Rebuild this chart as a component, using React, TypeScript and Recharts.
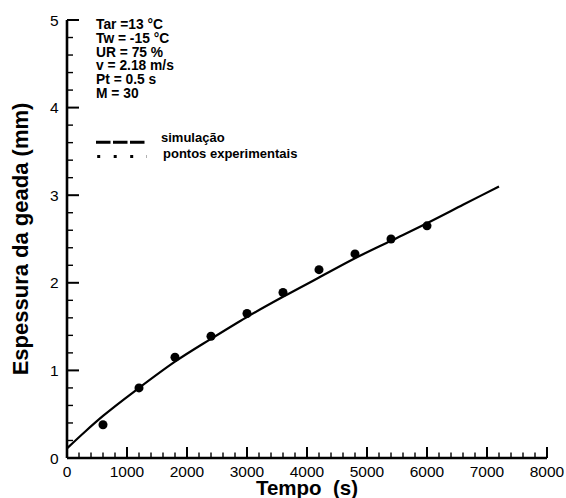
import React from "react";
import { ComposedChart, Line, Scatter, XAxis, YAxis } from "recharts";

// ---- data ----
const simTime = [0, 300, 600, 1200, 1800, 2400, 3000, 3600, 4200, 4800, 5400, 6000, 6600, 7200];
const simThickness = [0.11, 0.3, 0.48, 0.8, 1.1, 1.36, 1.61, 1.84, 2.06, 2.28, 2.48, 2.68, 2.89, 3.1];

const expTime = [600, 1200, 1800, 2400, 3000, 3600, 4200, 4800, 5400, 6000];
const expThickness = [0.38, 0.8, 1.15, 1.39, 1.65, 1.89, 2.15, 2.33, 2.5, 2.65];

const xMajor = [0, 1000, 2000, 3000, 4000, 5000, 6000, 7000, 8000];
const xMinor = [
  200, 400, 600, 800, 1200, 1400, 1600, 1800, 2200, 2400, 2600, 2800, 3200, 3400, 3600, 3800,
  4200, 4400, 4600, 4800, 5200, 5400, 5600, 5800, 6200, 6400, 6600, 6800, 7200, 7400, 7600, 7800,
];
const yMajor = [0, 1, 2, 3, 4, 5];
const yMinor = [0.2, 0.4, 0.6, 0.8, 1.2, 1.4, 1.6, 1.8, 2.2, 2.4, 2.6, 2.8, 3.2, 3.4, 3.6, 3.8, 4.2, 4.4, 4.6, 4.8];

const infoLines = ["Tar =13 °C", "Tw = -15 °C", "UR = 75 %", "v = 2.18 m/s", "Pt = 0.5 s", "M = 30"];
const legendLabels = ["simulação", "pontos experimentais"];
const xTitle = "Tempo  (s)";
const yTitle = "Espessura da geada (mm)";

const simData = simTime.map((t, i) => ({ t, e: simThickness[i] }));
const expData = expTime.map((t, i) => ({ t, e: expThickness[i] }));
const xMinorData = xMinor.map((t) => ({ t, e: 0 }));
const yMinorData = yMinor.map((e) => ({ t: 0, e }));

// ---- layout ----
const W = 566;
const H = 498;
const FONT = "'Liberation Sans', Arial, Helvetica, sans-serif";
const X_MAJOR_LEN = 11;
const Y_MAJOR_LEN = 12;

// labels only (tick marks come from the built-in inward tickLine)
const renderXTick = (props: any) => {
  const { x, y, payload } = props;
  return (
    <text x={x} y={y + X_MAJOR_LEN + 18.5} textAnchor="middle" fontFamily={FONT} fontSize={15.5} fill="#000">
      {String(payload.value)}
    </text>
  );
};

const renderYTick = (props: any) => {
  const { x, y, payload } = props;
  return (
    <text x={x - Y_MAJOR_LEN - 8.5} y={y + 5.5} textAnchor="end" fontFamily={FONT} fontSize={15.5} fill="#000">
      {String(payload.value)}
    </text>
  );
};

const MinorXMark = (p: any) => <rect x={p.cx - 0.7} y={p.cy - 5.5} width={1.4} height={5.5} fill="#000" />;
const MinorYMark = (p: any) => <rect x={p.cx} y={p.cy - 0.7} width={6} height={1.4} fill="#000" />;

const renderAnnotations = () => (
  <g>
    {infoLines.map((s, i) => (
      <text key={s} x={96} y={29.3 + i * 13.7} fontFamily={FONT} fontWeight="bold" fontSize={13.8} fill="#000">
        {s}
      </text>
    ))}
    <line x1={96} x2={146.7} y1={142.3} y2={142.3} stroke="#000" strokeWidth={3} strokeDasharray="14.5 2.5" />
    <line x1={97.2} x2={147} y1={156.5} y2={156.5} stroke="#000" strokeWidth={3} strokeDasharray="3 13.5" />
    <text x={161} y={141.5} fontFamily={FONT} fontWeight="bold" fontSize={13} fill="#000">
      {legendLabels[0]}
    </text>
    <text x={163} y={157.5} fontFamily={FONT} fontWeight="bold" fontSize={13} fill="#000">
      {legendLabels[1]}
    </text>
    <text x={307} y={495} textAnchor="middle" fontFamily={FONT} fontWeight="bold" fontSize={20.5} fill="#000" style={{ whiteSpace: "pre" }}>
      {xTitle}
    </text>
    <text x={28} y={239} transform="rotate(-90 28 239)" textAnchor="middle" fontFamily={FONT} fontWeight="bold" fontSize={22} fill="#000">
      {yTitle}
    </text>
  </g>
);

export default function App() {
  return (
    <div style={{ position: "absolute", left: 0, top: 0, width: W, height: H, background: "#fff" }}>
      <ComposedChart width={W} height={H} margin={{ top: 20, right: 19, bottom: 10, left: 27 }}>
        <XAxis
          type="number"
          dataKey="t"
          domain={[0, 8000]}
          ticks={xMajor}
          interval={0}
          height={30}
          tickSize={-X_MAJOR_LEN}
          tickMargin={0}
          tickLine={{ stroke: "#000", strokeWidth: 2 }}
          tick={renderXTick}
          axisLine={{ stroke: "#000", strokeWidth: 2.6 }}
        />
        <YAxis
          type="number"
          dataKey="e"
          domain={[0, 5]}
          ticks={yMajor}
          interval={0}
          width={40}
          tickSize={-Y_MAJOR_LEN}
          tickMargin={0}
          tickLine={{ stroke: "#000", strokeWidth: 2 }}
          tick={renderYTick}
          axisLine={{ stroke: "#000", strokeWidth: 2.6 }}
          label={renderAnnotations}
        />
        <Scatter data={xMinorData} dataKey="e" shape={MinorXMark} isAnimationActive={false} />
        <Scatter data={yMinorData} dataKey="e" shape={MinorYMark} isAnimationActive={false} />
        <Line
          data={simData}
          dataKey="e"
          type="monotone"
          stroke="#000"
          strokeWidth={2.2}
          dot={false}
          isAnimationActive={false}
        />
        <Scatter data={expData} dataKey="e" fill="#000" isAnimationActive={false} />
      </ComposedChart>
    </div>
  );
}
